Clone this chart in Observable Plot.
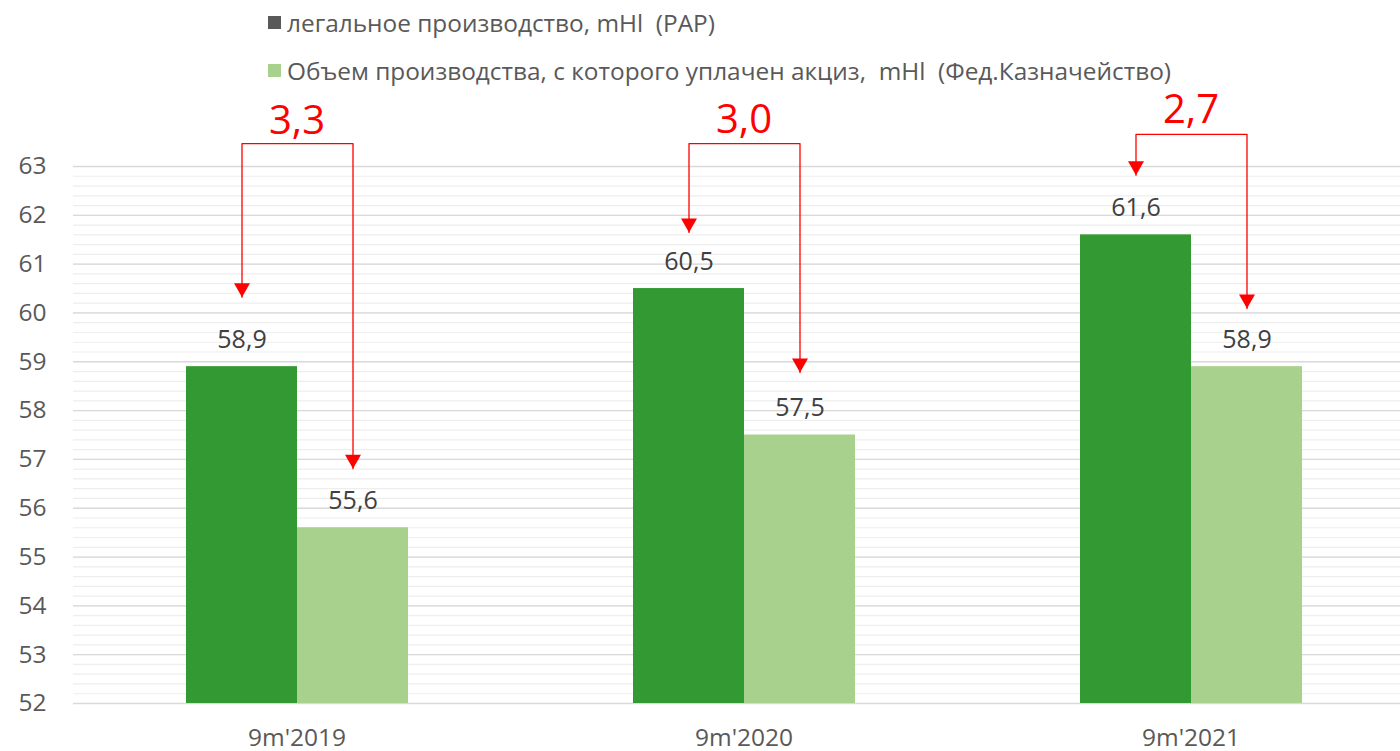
<!DOCTYPE html>
<html><head><meta charset="utf-8">
<script src="https://cdn.jsdelivr.net/npm/d3@7"></script>
<script src="https://cdn.jsdelivr.net/npm/@observablehq/plot@0.6"></script>
<style>
html,body{margin:0;padding:0;background:#fff;overflow:hidden;}
body{width:1400px;height:751px;font-family:"Open Sans",sans-serif;}
#legend{position:relative;height:90px;}
#chart svg{max-width:none !important;}
.li{position:absolute;left:268px;height:30px;display:flex;align-items:center;font-size:24.4px;color:#595959;white-space:pre;}
.sw{width:13px;height:13px;margin-right:6px;flex:none;}
</style></head><body>
<div id="legend"></div>
<div id="chart"></div>
<script>
// ---- data ----
const categories = ["9m'2019", "9m'2020", "9m'2021"];
const seriesKeys = ["legal", "excise"];
const seriesNames = [
  "легальное производство, mHl  (РАР)",
  "Объем производства, с которого уплачен акциз,  mHl  (Фед.Казначейство)"
];
const legalValues = [58.9, 60.5, 61.6];
const exciseValues = [55.6, 57.5, 58.9];
const diffLabels = ["3,3", "3,0", "2,7"];
const diffLabelY = [63.93, 63.94, 64.16];
const arrowTop = [63.47, 63.47, 63.66];
const arrowLeftTip = [60.32, 61.65, 62.82];
const arrowRightTip = [56.81, 58.78, 60.09];
const yTicks = [52, 53, 54, 55, 56, 57, 58, 59, 60, 61, 62, 63];
const minorTicks = d3.range(52, 63.001, 0.2);
const barColors = ["#339933", "#a9d18e"];
const legendColors = ["#595959", "#a9d18e"];
const legendTops = [7, 55];

// ---- legend ----
const leg = document.getElementById("legend");
seriesNames.forEach((n, i) => {
  const d = document.createElement("div");
  d.className = "li";
  d.style.top = legendTops[i] + "px";
  const sw = document.createElement("span");
  sw.className = "sw";
  sw.style.background = legendColors[i];
  const t = document.createElement("span");
  t.textContent = n;
  d.append(sw, t);
  leg.append(d);
});

// ---- tables ----
const fmt = v => v.toFixed(1).replace(".", ",");
const rows = categories.flatMap((c, i) => [
  {cat: c, s: "legal", v: legalValues[i]},
  {cat: c, s: "excise", v: exciseValues[i]}
]);
const arrowPts = categories.flatMap((c, i) => [
  {cat: c, s: "legal", y: arrowLeftTip[i]},
  {cat: c, s: "legal", y: arrowTop[i]},
  {cat: c, s: "excise", y: arrowTop[i]},
  {cat: c, s: "excise", y: arrowRightTip[i]}
]);
const tips = categories.flatMap((c, i) => [
  {cat: c, s: "legal", y: arrowLeftTip[i]},
  {cat: c, s: "excise", y: arrowRightTip[i]}
]);
const labels = categories.map((c, i) => ({cat: c, y: diffLabelY[i], t: diffLabels[i]}));

// downward triangle whose apex sits on the point
const downTri = {
  draw(ctx, size) {
    const s = Math.sqrt(size);
    ctx.moveTo(0, 0);
    ctx.lineTo(-s / 2, -s * 0.875);
    ctx.lineTo(s / 2, -s * 0.875);
    ctx.closePath();
  }
};

const chart = Plot.plot({
  width: 1415,
  height: 661,
  marginLeft: 72,
  marginRight: 0,
  marginTop: 76,
  marginBottom: 48,
  style: {fontFamily: "Open Sans", fontSize: "24.5px", color: "#595959", background: "transparent", overflow: "visible", maxWidth: "none"},
  fx: {domain: categories, padding: 0, label: null, axis: "bottom", tickSize: 0, tickPadding: 25},
  x: {domain: seriesKeys, paddingInner: 0, paddingOuter: 1, axis: null},
  y: {domain: [52, 63], ticks: yTicks, tickSize: 0, tickPadding: 27, label: null, tickFormat: d => String(d)},
  color: {domain: seriesKeys, range: barColors},
  marks: [
    Plot.ruleY(minorTicks, {stroke: "#eeeeee", strokeWidth: 1.2}),
    Plot.ruleY(yTicks, {stroke: "#d9d9d9", strokeWidth: 1.3}),
    Plot.barY(rows, {fx: "cat", x: "s", y1: () => 52, y2: "v", fill: "s"}),
    Plot.text(rows, {fx: "cat", x: "s", y: "v", text: d => fmt(d.v), dy: -27, fill: "#404040", fontSize: 25}),
    Plot.line(arrowPts, {fx: "cat", x: "s", y: "y", stroke: "#ff0000", strokeWidth: 1.3}),
    Plot.dot(tips, {fx: "cat", x: "s", y: "y", symbol: downTri, r: 9, fill: "#ff0000"}),
    Plot.text(labels, {fx: "cat", y: "y", text: "t", fill: "#ff0000", fontSize: 40})
  ]
});
document.getElementById("chart").append(chart);
</script>
</body></html>
